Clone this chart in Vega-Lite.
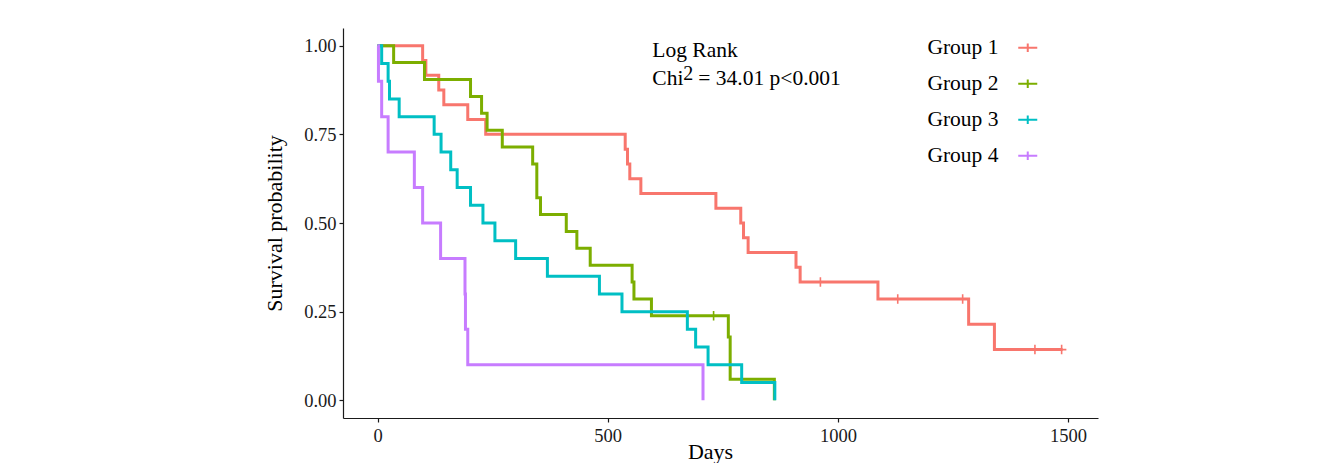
{
  "$schema": "https://vega.github.io/schema/vega-lite/v6.json",
  "width": 755,
  "height": 390,
  "autosize": {"type": "none"},
  "padding": {"left": 343, "top": 28, "right": 244, "bottom": 45},
  "background": "white",
  "config": {
    "view": {"stroke": null},
    "font": "Liberation Serif",
    "axis": {
      "domainColor": "#1a1a1a",
      "domainWidth": 1.2,
      "tickColor": "#1a1a1a",
      "tickWidth": 1.2,
      "tickSize": 4,
      "grid": false,
      "labelFont": "Liberation Serif",
      "labelFontSize": 18.5,
      "labelColor": "#1a1a1a",
      "titleFont": "Liberation Serif",
      "titleFontSize": 22,
      "titleFontWeight": "normal",
      "titleColor": "black"
    }
  },
  "datasets": {
    "curves": [
      {"group": "Group 1", "time": 0, "surv": 1},
      {"group": "Group 1", "time": 98, "surv": 0.9583},
      {"group": "Group 1", "time": 105, "surv": 0.9167},
      {"group": "Group 1", "time": 133, "surv": 0.875},
      {"group": "Group 1", "time": 144, "surv": 0.8333},
      {"group": "Group 1", "time": 196, "surv": 0.7917},
      {"group": "Group 1", "time": 235, "surv": 0.75},
      {"group": "Group 1", "time": 538, "surv": 0.7083},
      {"group": "Group 1", "time": 543, "surv": 0.6667},
      {"group": "Group 1", "time": 548, "surv": 0.625},
      {"group": "Group 1", "time": 572, "surv": 0.5833},
      {"group": "Group 1", "time": 735, "surv": 0.5417},
      {"group": "Group 1", "time": 789, "surv": 0.5},
      {"group": "Group 1", "time": 795, "surv": 0.4583},
      {"group": "Group 1", "time": 805, "surv": 0.4167},
      {"group": "Group 1", "time": 909, "surv": 0.375},
      {"group": "Group 1", "time": 918, "surv": 0.3333},
      {"group": "Group 1", "time": 1087, "surv": 0.2857},
      {"group": "Group 1", "time": 1284, "surv": 0.2143},
      {"group": "Group 1", "time": 1340, "surv": 0.1429},
      {"group": "Group 1", "time": 1488, "surv": 0.1429},
      {"group": "Group 2", "time": 0, "surv": 1},
      {"group": "Group 2", "time": 35, "surv": 0.9524},
      {"group": "Group 2", "time": 102, "surv": 0.9048},
      {"group": "Group 2", "time": 202, "surv": 0.8571},
      {"group": "Group 2", "time": 226, "surv": 0.8095},
      {"group": "Group 2", "time": 238, "surv": 0.7619},
      {"group": "Group 2", "time": 271, "surv": 0.7143},
      {"group": "Group 2", "time": 337, "surv": 0.6667},
      {"group": "Group 2", "time": 346, "surv": 0.5714},
      {"group": "Group 2", "time": 354, "surv": 0.5238},
      {"group": "Group 2", "time": 410, "surv": 0.4762},
      {"group": "Group 2", "time": 433, "surv": 0.4286},
      {"group": "Group 2", "time": 462, "surv": 0.381},
      {"group": "Group 2", "time": 553, "surv": 0.3333},
      {"group": "Group 2", "time": 557, "surv": 0.2857},
      {"group": "Group 2", "time": 595, "surv": 0.2381},
      {"group": "Group 2", "time": 762, "surv": 0.1786},
      {"group": "Group 2", "time": 766, "surv": 0.0595},
      {"group": "Group 2", "time": 862, "surv": 0},
      {"group": "Group 3", "time": 0, "surv": 1},
      {"group": "Group 3", "time": 9, "surv": 0.95},
      {"group": "Group 3", "time": 23, "surv": 0.9},
      {"group": "Group 3", "time": 26, "surv": 0.85},
      {"group": "Group 3", "time": 47, "surv": 0.8},
      {"group": "Group 3", "time": 123, "surv": 0.75},
      {"group": "Group 3", "time": 138, "surv": 0.7},
      {"group": "Group 3", "time": 159, "surv": 0.65},
      {"group": "Group 3", "time": 173, "surv": 0.6},
      {"group": "Group 3", "time": 202, "surv": 0.55},
      {"group": "Group 3", "time": 229, "surv": 0.5},
      {"group": "Group 3", "time": 255, "surv": 0.45},
      {"group": "Group 3", "time": 300, "surv": 0.4},
      {"group": "Group 3", "time": 369, "surv": 0.35},
      {"group": "Group 3", "time": 482, "surv": 0.3},
      {"group": "Group 3", "time": 531, "surv": 0.25},
      {"group": "Group 3", "time": 673, "surv": 0.2},
      {"group": "Group 3", "time": 691, "surv": 0.15},
      {"group": "Group 3", "time": 718, "surv": 0.1},
      {"group": "Group 3", "time": 791, "surv": 0.05},
      {"group": "Group 3", "time": 863, "surv": 0},
      {"group": "Group 4", "time": 0, "surv": 1},
      {"group": "Group 4", "time": 2, "surv": 0.9},
      {"group": "Group 4", "time": 9, "surv": 0.8},
      {"group": "Group 4", "time": 23, "surv": 0.7},
      {"group": "Group 4", "time": 80, "surv": 0.6},
      {"group": "Group 4", "time": 98, "surv": 0.5},
      {"group": "Group 4", "time": 137, "surv": 0.4},
      {"group": "Group 4", "time": 190, "surv": 0.3},
      {"group": "Group 4", "time": 191, "surv": 0.2},
      {"group": "Group 4", "time": 196, "surv": 0.1},
      {"group": "Group 4", "time": 707, "surv": 0}
    ],
    "censors": [
      {"group": "Group 1", "time": 962, "surv": 0.3333},
      {"group": "Group 1", "time": 1130, "surv": 0.2857},
      {"group": "Group 1", "time": 1271, "surv": 0.2857},
      {"group": "Group 1", "time": 1428, "surv": 0.1429},
      {"group": "Group 1", "time": 1486, "surv": 0.1429},
      {"group": "Group 2", "time": 730, "surv": 0.2381}
    ],
    "note": [
      {"line1": "Log Rank", "chi": "Chi", "sup": "2", "rest": "= 34.01 p<0.001"}
    ]
  },
  "layer": [
    {
      "data": {"name": "curves"},
      "mark": {"type": "line", "interpolate": "step-after", "strokeWidth": 3},
      "encoding": {
        "x": {
          "field": "time", "type": "quantitative",
          "scale": {"domain": [-75, 1565], "nice": false, "zero": false},
          "axis": {"values": [0, 500, 1000, 1500], "format": "d", "title": "Days", "labelPadding": 4, "titleX": 367, "titleY": 40, "titleBaseline": "alphabetic"}
        },
        "y": {
          "field": "surv", "type": "quantitative",
          "scale": {"domain": [-0.05, 1.05], "nice": false, "zero": false},
          "axis": {"values": [0, 0.25, 0.5, 0.75, 1], "format": ".2f", "title": "Survival probability", "labelPadding": 3, "titlePadding": 17}
        },
        "color": {
          "field": "group", "type": "nominal",
          "scale": {"domain": ["Group 1", "Group 2", "Group 3", "Group 4"], "range": ["#F8766D", "#7CAE00", "#00BFC4", "#C77CFF"]},
          "legend": {
            "title": null,
            "orient": "none",
            "legendX": 674,
            "legendY": 9,
            "symbolType": "M-1,0L1,0M0,-0.45L0,0.45",
            "symbolSize": 361,
            "symbolStrokeWidth": 2,
            "symbolFillColor": "transparent",
            "labelFont": "Liberation Serif",
            "labelFontSize": 21.5,
            "labelColor": "black",
            "labelAlign": "right",
            "labelOffset": -40,
            "rowPadding": 13,
            "labelLimit": 200
          }
        }
      }
    },
    {
      "data": {"name": "censors"},
      "mark": {"type": "point", "shape": "M-1,0L1,0M0,-1L0,1", "size": 90, "strokeWidth": 1.6, "filled": false, "opacity": 1},
      "encoding": {
        "x": {"field": "time", "type": "quantitative"},
        "y": {"field": "surv", "type": "quantitative"},
        "color": {"field": "group", "type": "nominal", "legend": null}
      }
    },
    {
      "data": {"name": "note"},
      "mark": {"type": "text", "align": "left", "baseline": "alphabetic", "font": "Liberation Serif", "fontSize": 21.5, "color": "black"},
      "encoding": {
        "x": {"datum": 597, "type": "quantitative"},
        "y": {"datum": 0.968, "type": "quantitative"},
        "text": {"field": "line1"}
      }
    },
    {
      "data": {"name": "note"},
      "mark": {"type": "text", "align": "left", "baseline": "alphabetic", "font": "Liberation Serif", "fontSize": 21.5, "color": "black"},
      "encoding": {
        "x": {"datum": 597, "type": "quantitative"},
        "y": {"datum": 0.89, "type": "quantitative"},
        "text": {"field": "chi"}
      }
    },
    {
      "data": {"name": "note"},
      "mark": {"type": "text", "align": "left", "baseline": "alphabetic", "font": "Liberation Serif", "fontSize": 20, "dx": 31, "dy": -5, "color": "black"},
      "encoding": {
        "x": {"datum": 597, "type": "quantitative"},
        "y": {"datum": 0.89, "type": "quantitative"},
        "text": {"field": "sup"}
      }
    },
    {
      "data": {"name": "note"},
      "mark": {"type": "text", "align": "left", "baseline": "alphabetic", "font": "Liberation Serif", "fontSize": 21.5, "dx": 46, "color": "black"},
      "encoding": {
        "x": {"datum": 597, "type": "quantitative"},
        "y": {"datum": 0.89, "type": "quantitative"},
        "text": {"field": "rest"}
      }
    }
  ]
}
